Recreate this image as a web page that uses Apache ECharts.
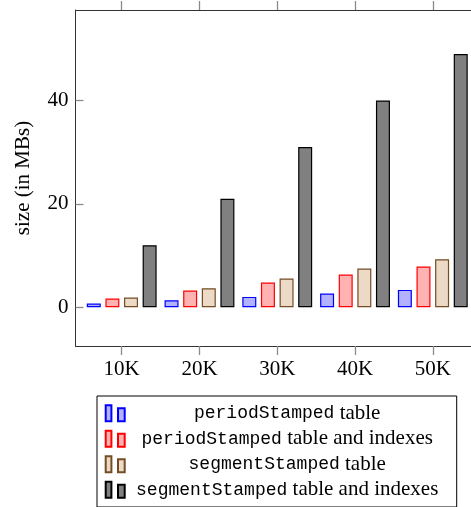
<!DOCTYPE html>
<html>
<head>
<meta charset="utf-8">
<script src="https://cdn.jsdelivr.net/npm/echarts@6/dist/echarts.min.js"></script>
<style>html,body{margin:0;padding:0;background:#fff}#c{width:471px;height:507px}</style>
</head>
<body>
<div id="c"></div>
<script>
const categories = ['10K', '20K', '30K', '40K', '50K'];
const seriesNames = ['periodStamped table', 'periodStamped table and indexes', 'segmentStamped table', 'segmentStamped table and indexes'];
const periodTable = [0.71, 1.35, 2.0, 2.65, 3.35];
const periodTableIdx = [1.68, 3.23, 4.77, 6.32, 7.87];
const segmentTable = [1.87, 3.68, 5.55, 7.48, 9.29];
const segmentTableIdx = [12, 21, 31, 40, 49];
const yTicks = [0, 20, 40];

const values = [periodTable, periodTableIdx, segmentTable, segmentTableIdx];
const fills = ['rgb(178,178,255)', 'rgb(255,178,178)', 'rgb(236,217,198)', 'rgb(128,128,128)'];
const strokes = ['rgb(0,0,255)', 'rgb(255,0,0)', 'rgb(115,77,38)', 'rgb(0,0,0)'];
const catPos = categories.map((c, i) => i + 1);

const chart = echarts.init(document.getElementById('c'), null, {renderer: 'canvas'});
const serif = 'Liberation Serif';
const mono = 'Liberation Mono';
const tickColor = '#8a8a8a';
const lineColor = '#333';

const series = values.map((arr, si) => ({
  type: 'bar', name: seriesNames[si], xAxisIndex: 0, yAxisIndex: 0,
  barWidth: 14, barGap: '33%',
  data: arr.map((v, i) => [catPos[i], v]),
  itemStyle: {color: fills[si], borderColor: strokes[si], borderWidth: 1.2},
  emphasis: {disabled: true}, animation: false
}));

const xMin = 0.406, xMax = 5.594;
const yMin = -7.5, yMax = 57.5;

const option = {
  animation: false,
  grid: {left: 75.5, right: -8, top: 10, bottom: 161, outerBoundsMode: 'none', containLabel: false},
  xAxis: [{
    type: 'value', position: 'bottom', min: xMin, max: xMax,
    axisLine: {show: true, onZero: false, lineStyle: {color: lineColor, width: 1}},
    axisTick: {show: true, inside: false, length: 9, customValues: catPos, lineStyle: {color: tickColor, width: 1.3}},
    axisLabel: {show: true, customValues: catPos, margin: 13, fontFamily: serif, fontSize: 21, color: '#000',
      formatter: v => categories[Math.round(v) - 1]},
    splitLine: {show: false}
  }, {
    type: 'value', position: 'top', min: xMin, max: xMax,
    axisLine: {show: true, onZero: false, lineStyle: {color: lineColor, width: 1}},
    axisTick: {show: true, inside: false, length: 9, customValues: catPos, lineStyle: {color: tickColor, width: 1.3}},
    axisLabel: {show: false}, splitLine: {show: false}
  }],
  yAxis: [{
    type: 'value', position: 'left', min: yMin, max: yMax,
    name: 'size (in MBs)', nameLocation: 'middle', nameGap: 42,
    nameTextStyle: {fontFamily: serif, fontSize: 21, color: '#000'},
    axisLine: {show: true, onZero: false, lineStyle: {color: lineColor, width: 1}},
    axisTick: {show: true, inside: true, length: 8, customValues: yTicks, lineStyle: {color: tickColor, width: 1.3}},
    axisLabel: {show: true, customValues: yTicks, margin: 7, fontFamily: serif, fontSize: 21, color: '#000'},
    splitLine: {show: false}
  }, {
    type: 'value', position: 'right', min: yMin, max: yMax,
    axisLine: {show: true, onZero: false, lineStyle: {color: lineColor, width: 1}},
    axisTick: {show: true, inside: true, length: 8, customValues: yTicks, lineStyle: {color: tickColor, width: 1.3}},
    axisLabel: {show: false}, splitLine: {show: false}
  }],
  legend: {
    show: true, orient: 'vertical', left: 97, top: 396,
    padding: [4.5, 12, 4.5, 7.7],
    borderColor: '#000', borderWidth: 1, backgroundColor: '#fff',
    itemWidth: 19, itemHeight: 16, itemGap: 0, selectedMode: false,
    icon: 'path://M0,0h5.7v16h-5.7zM12.3,3h6.7v13h-6.7z',
    data: seriesNames,
    formatter: name => {
      const idx = name.indexOf(' ');
      return '{m|' + name.slice(0, idx) + '}{s|' + name.slice(idx) + '}';
    },
    textStyle: {
      width: 315, lineHeight: 25.5, color: '#000',
      rich: {
        m: {fontFamily: mono, fontSize: 18, align: 'center', lineHeight: 25.5, color: '#000'},
        s: {fontFamily: serif, fontSize: 21, align: 'center', lineHeight: 25.5, color: '#000'}
      }
    }
  },
  series: series
};

chart.setOption(option);
</script>
</body>
</html>
